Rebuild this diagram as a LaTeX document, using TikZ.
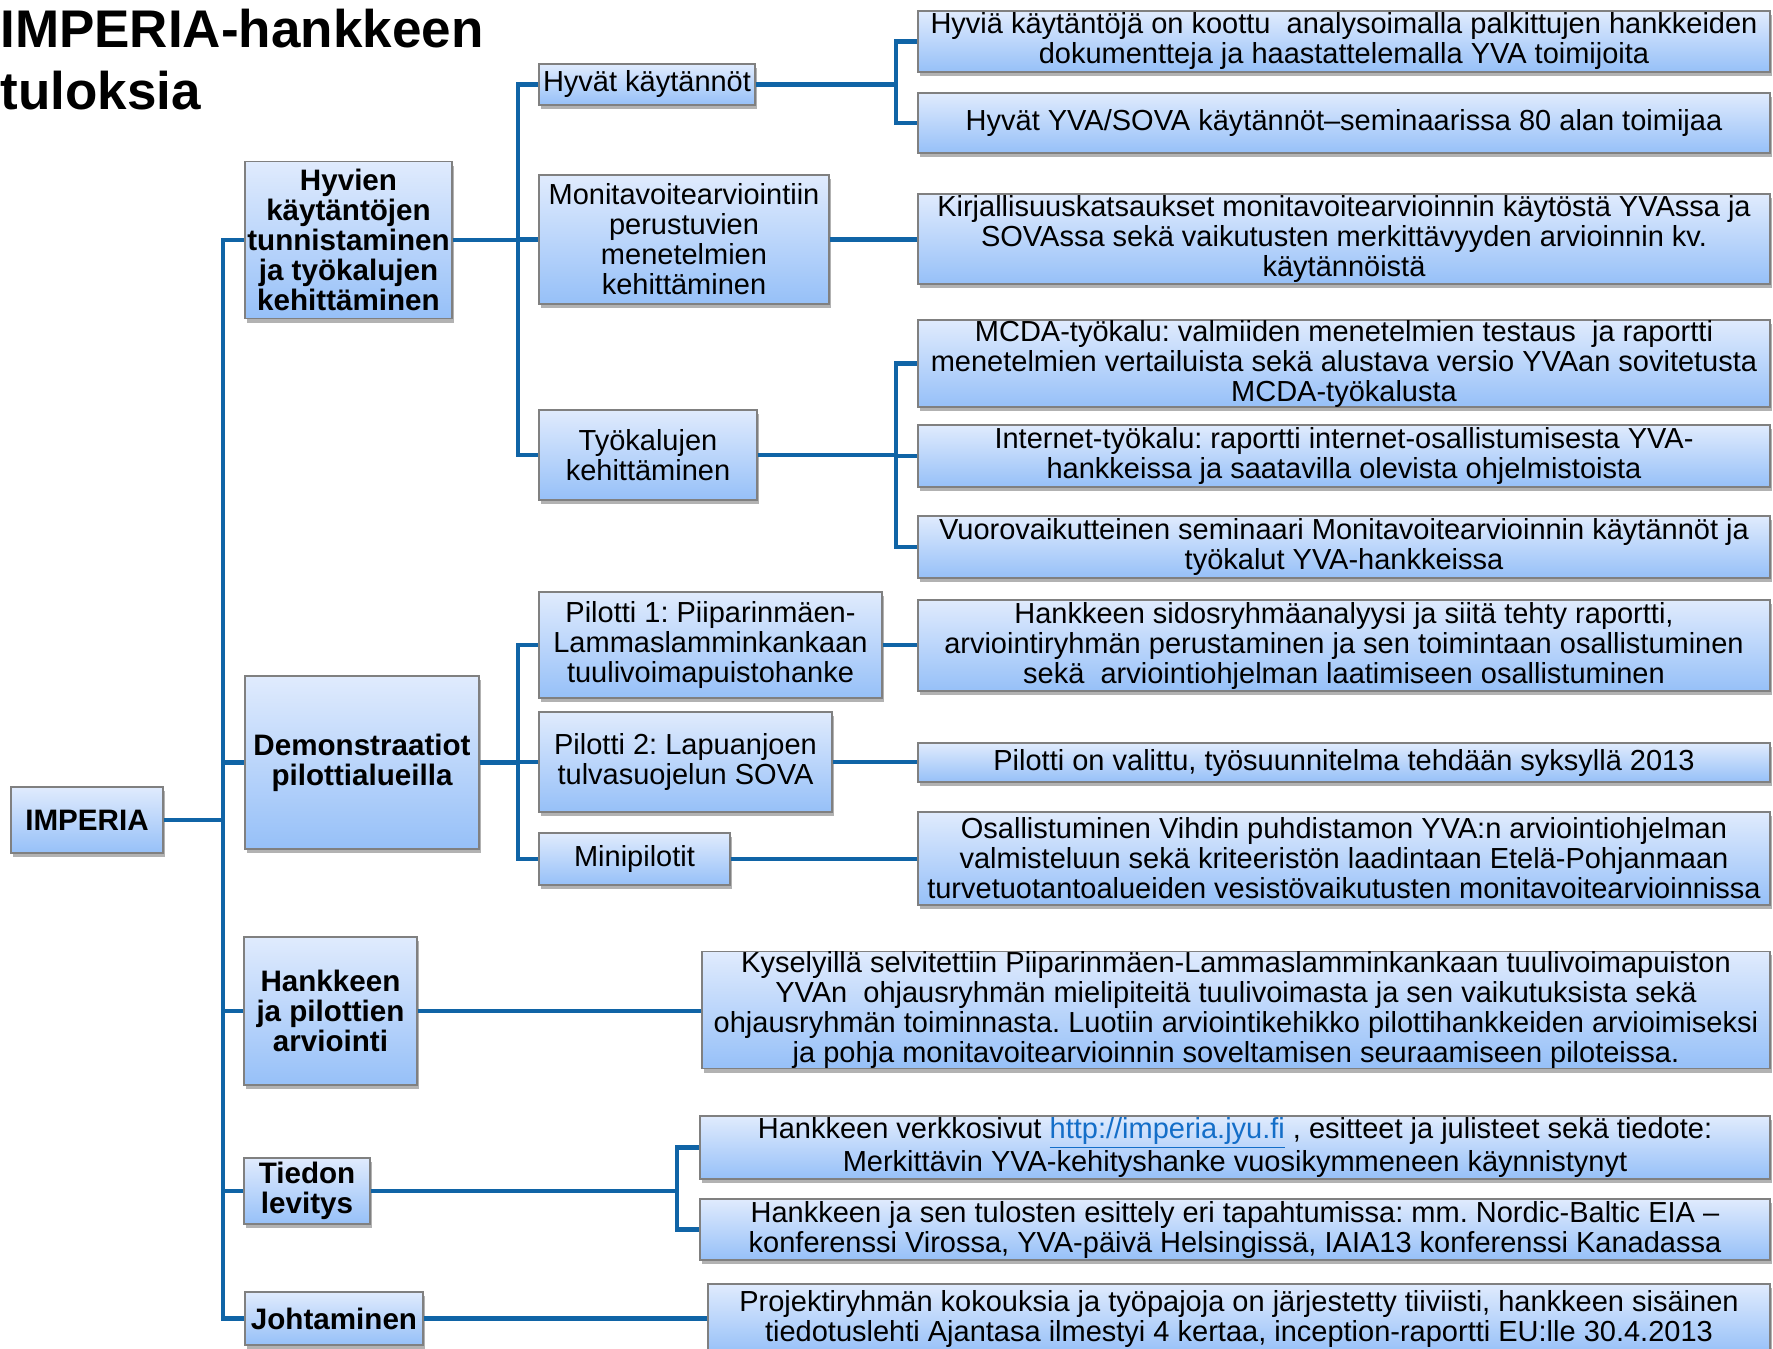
\documentclass[tikz,border=0pt]{standalone}
\usepackage{fontspec}
\setmainfont{Liberation Sans}
\usetikzlibrary{shadows}
\definecolor{boxtop}{RGB}{224,235,253}
\definecolor{boxbot}{RGB}{150,192,248}
\definecolor{boxgray}{RGB}{128,128,128}
\definecolor{connblue}{RGB}{16,100,166}
\definecolor{urlblue}{RGB}{20,110,200}
\frenchspacing

\begin{document}
\begin{tikzpicture}[x=0.5pt,y=-0.5pt,
    every node/.style={inner sep=0pt, align=center,
      font=\fontsize{14.5}{15}\selectfont},
    box/.style={draw=boxgray, line width=0.7pt,
      top color=boxtop, bottom color=boxbot,
      drop shadow={shadow xshift=1pt, shadow yshift=-2pt, opacity=0.3, fill=black}},
    head/.style={box, font=\fontsize{14.8}{15}\selectfont\bfseries},
    wh/.style 2 args={minimum width=#1*0.5pt, minimum height=#2*0.5pt},
    conn/.style={draw=connblue, line width=2.4pt}]
  \useasboundingbox (0,0) rectangle (1773,1349);

  \node (title) [anchor=north west, align=left,
    font=\fontsize{26.5}{31}\selectfont\bfseries] at (0,9)
    {IMPERIA-hankkeen\\tuloksia};

  % trunks
  \coordinate (t0) at (223,0);
  \coordinate (t1) at (518,0);
  \coordinate (t2) at (896,0);
  \coordinate (t3) at (677,0);

  % level 1
  \node (imp)  [head, wh={152}{66}]  at (87,820)    {IMPERIA};
  \node (hyv)  [head, wh={207}{157}] at (348.5,240) {Hyvien\\käytäntöjen\\tunnistaminen\\ja työkalujen\\kehittäminen};
  \node (demo) [head, wh={234}{173}] at (362,762.5) {Demonstraatiot\\pilottialueilla};
  \node (hank) [head, wh={173}{148}] at (330.5,1011) {Hankkeen\\ja pilottien\\arviointi};
  \node (tied) [head, wh={126}{66}]  at (307,1191)  {Tiedon\\levitys};
  \node (joht) [head, wh={178}{53}]  at (334,1318.5) {Johtaminen};

  % level 2
  \node (hk)   [box, wh={216}{41}]  at (647,84.5)  {Hyvät käytännöt};
  \node (mon)  [box, wh={290}{129}] at (684,239.5) {Monitavoitearviointiin\\perustuvien\\menetelmien\\kehittäminen};
  \node (tyo)  [box, wh={218}{90}]  at (648,455)   {Työkalujen\\kehittäminen};
  \node (p1)   [box, wh={343}{106}] at (710.5,645) {Pilotti 1: Piiparinmäen-\\Lammaslamminkankaan\\tuulivoimapuistohanke};
  \node (p2)   [box, wh={293}{100}] at (685.5,762) {Pilotti 2: Lapuanjoen\\tulvasuojelun SOVA};
  \node (mini) [box, wh={191}{52}]  at (634.5,859) {Minipilotit};

  % level 3
  \node (a1) [box, wh={852}{61}] at (1344,41.5)
    {Hyviä käytäntöjä on koottu\ \ analysoimalla palkittujen hankkeiden\\dokumentteja ja haastattelemalla YVA toimijoita};
  \node (a2) [box, wh={852}{60}] at (1344,123)
    {Hyvät YVA/SOVA käytännöt–seminaarissa 80 alan toimijaa};
  \node (b)  [box, wh={852}{90}] at (1344,239)
    {Kirjallisuuskatsaukset monitavoitearvioinnin käytöstä YVAssa ja\\SOVAssa sekä vaikutusten merkittävyyden arvioinnin kv.\\käytännöistä};
  \node (c1) [box, wh={852}{87}] at (1344,363.5)
    {MCDA-työkalu: valmiiden menetelmien testaus\ \ ja raportti\\menetelmien vertailuista sekä alustava versio YVAan sovitetusta\\MCDA-työkalusta};
  \node (c2) [box, wh={852}{62}] at (1344,456)
    {Internet-työkalu: raportti internet-osallistumisesta YVA-\\hankkeissa ja saatavilla olevista ohjelmistoista};
  \node (c3) [box, wh={852}{62}] at (1344,547)
    {Vuorovaikutteinen seminaari Monitavoitearvioinnin käytännöt ja\\työkalut YVA-hankkeissa};
  \node (d)  [box, wh={852}{91}] at (1344,645.5)
    {Hankkeen sidosryhmäanalyysi ja siitä tehty raportti,\\arviointiryhmän perustaminen ja sen toimintaan osallistuminen\\sekä\ \ arviointiohjelman laatimiseen osallistuminen};
  \node (e)  [box, wh={852}{39}] at (1344,762.5)
    {Pilotti on valittu, työsuunnitelma tehdään syksyllä 2013};
  \node (f)  [box, wh={852}{93}] at (1344,858.5)
    {Osallistuminen Vihdin puhdistamon YVA:n arviointiohjelman\\valmisteluun sekä kriteeristön laadintaan Etelä-Pohjanmaan\\turvetuotantoalueiden vesistövaikutusten monitavoitearvioinnissa};
  \node (g)  [box, wh={1068}{116}] at (1236,1010)
    {Kyselyillä selvitettiin Piiparinmäen-Lammaslamminkankaan tuulivoimapuiston\\YVAn\ \ ohjausryhmän mielipiteitä tuulivoimasta ja sen vaikutuksista sekä\\ohjausryhmän toiminnasta. Luotiin arviointikehikko pilottihankkeiden arvioimiseksi\\ja pohja monitavoitearvioinnin soveltamisen seuraamiseen piloteissa.};
  \node (h1) [box, wh={1070}{63}] at (1235,1147.5)
    {Hankkeen verkkosivut {\color{urlblue}\underline{http://imperia.jyu.fi}} , esitteet ja julisteet sekä tiedote:\\Merkittävin YVA-kehityshanke vuosikymmeneen käynnistynyt};
  \node (h2) [box, wh={1070}{61}] at (1235,1229.5)
    {Hankkeen ja sen tulosten esittely eri tapahtumissa: mm. Nordic-Baltic EIA –\\konferenssi Virossa, YVA-päivä Helsingissä, IAIA13 konferenssi Kanadassa};
  \node (i)  [box, wh={1062}{70}] at (1239,1319)
    {Projektiryhmän kokouksia ja työpajoja on järjestetty tiiviisti, hankkeen sisäinen\\tiedotuslehti Ajantasa ilmestyi 4 kertaa, inception-raportti EU:lle 30.4.2013};

  % connectors
  \draw[conn] (imp.east) -- (imp.east -| t0);
  \foreach \c in {hyv,demo,hank,tied,joht}
    \draw[conn] (imp.east -| t0) |- (\c.west);

  \draw[conn] (hyv.east) -- (hyv.east -| t1);
  \foreach \c in {hk,mon,tyo}
    \draw[conn] (hyv.east -| t1) |- (\c.west);
  \draw[conn] (demo.east) -- (demo.east -| t1);
  \foreach \c in {p1,p2,mini}
    \draw[conn] (demo.east -| t1) |- (\c.west);

  \draw[conn] (hk.east) -- (hk.east -| t2);
  \foreach \c in {a1,a2}
    \draw[conn] (hk.east -| t2) |- (\c.west);
  \draw[conn] (mon.east) -- (mon.east -| b.west);
  \draw[conn] (tyo.east) -- (tyo.east -| t2);
  \foreach \c in {c1,c2,c3}
    \draw[conn] (tyo.east -| t2) |- (\c.west);
  \draw[conn] (p1.east) -- (p1.east -| d.west);
  \draw[conn] (p2.east) -- (p2.east -| e.west);
  \draw[conn] (mini.east) -- (mini.east -| f.west);

  \draw[conn] (hank.east) -- (hank.east -| g.west);
  \draw[conn] (tied.east) -- (tied.east -| t3);
  \foreach \c in {h1,h2}
    \draw[conn] (tied.east -| t3) |- (\c.west);
  \draw[conn] (joht.east) -- (joht.east -| i.west);
\end{tikzpicture}
\end{document}
